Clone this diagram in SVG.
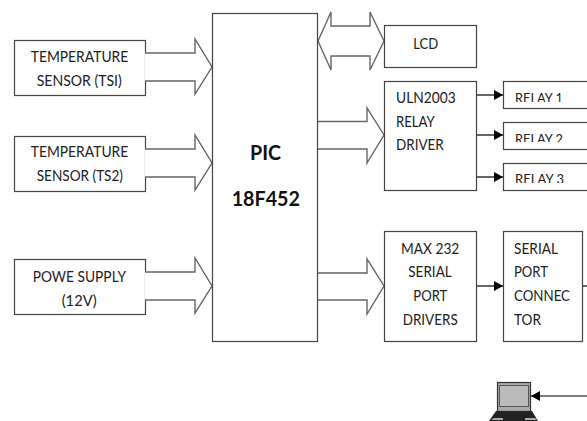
<svg xmlns="http://www.w3.org/2000/svg" width="587" height="421" viewBox="0 0 587 421">
<style>
.b{fill:#fff;stroke:#444;stroke-width:1.2}
.a{fill:#fff;stroke:#666;stroke-width:1.4;stroke-linejoin:miter}
.l{stroke:#000;stroke-width:1.2;fill:none}
text{font-family:Lato,"Liberation Sans",sans-serif;font-size:14.5px;fill:#222}
.r{font-size:13px}
.t{font-size:20px;font-weight:700;fill:#111}
</style>
<defs>
<marker id="h" markerUnits="userSpaceOnUse" markerWidth="9" markerHeight="10" refX="9" refY="5" orient="auto"><path d="M0 0L9 5L0 10Z" fill="#000"/></marker>
<clipPath id="c1"><rect x="503" y="81" width="84" height="21"/></clipPath>
<clipPath id="c2"><rect x="503" y="122" width="84" height="20"/></clipPath>
<clipPath id="c3"><rect x="503" y="163" width="84" height="20"/></clipPath>
</defs>
<rect width="587" height="421" fill="#fff"/>
<g id="ts1"><rect class="b" x="14.500" y="40.500" width="131" height="55"/><text x="30.700" y="62.300" textLength="97.600" lengthAdjust="spacingAndGlyphs">TEMPERATURE</text><text x="36.700" y="85.700" textLength="85" lengthAdjust="spacingAndGlyphs">SENSOR (TSI)</text></g>
<g id="ts2"><rect class="b" x="14.500" y="136.500" width="131" height="55"/><text x="30.700" y="157.300" textLength="97.600" lengthAdjust="spacingAndGlyphs">TEMPERATURE</text><text x="36.700" y="180.700" textLength="86.300" lengthAdjust="spacingAndGlyphs">SENSOR (TS2)</text></g>
<g id="power"><rect class="b" x="14.500" y="259.500" width="131" height="55"/><text x="32.700" y="281.700" textLength="93.300" lengthAdjust="spacingAndGlyphs">POWE SUPPLY</text><text x="61.700" y="305.700" textLength="35" lengthAdjust="spacingAndGlyphs">(12V)</text></g>
<g id="connectors">
<path class="a" d="M145 53H195V39L212 67L195 94V81H145"/>
<path class="a" d="M145 149H195V135L212 163L195 190V177H145"/>
<path class="a" d="M145 272H195V258L212 286L195 313V300H145"/>
<path class="a" d="M318 41L331 12V26H370V12L384 41L370 70V56H331V70Z"/>
<path class="a" d="M318 121.500H367V108L384 135L367 163V149H318"/>
<path class="a" d="M318 273H367V259L384 286L367 314V300H318"/>
<path class="l" d="M476 95H503" marker-end="url(#h)"/>
<path class="l" d="M476 135H503" marker-end="url(#h)"/>
<path class="l" d="M476 177H503" marker-end="url(#h)"/>
<path class="l" d="M476 286H503" marker-end="url(#h)"/>
<path class="l" d="M583 286H587"/>
<path class="l" d="M587 396H531" marker-end="url(#h)"/>
</g>
<g id="pic"><rect class="b" x="212.500" y="13.500" width="105" height="328" style="fill:none"/><text class="t" x="250" y="160" textLength="31" lengthAdjust="spacingAndGlyphs">PIC</text><text class="t" x="231.700" y="206" textLength="68.300" lengthAdjust="spacingAndGlyphs">18F452</text></g>
<g id="lcd"><rect class="b" x="384.500" y="25.500" width="92" height="42"/><text x="413.300" y="49" textLength="25" lengthAdjust="spacingAndGlyphs">LCD</text></g>
<g id="uln"><rect class="b" x="384.500" y="81.500" width="92" height="109"/><text x="396" y="102.700" textLength="59.700" lengthAdjust="spacingAndGlyphs">ULN2003</text><text x="396" y="126.700" textLength="38.700" lengthAdjust="spacingAndGlyphs">RELAY</text><text x="396" y="150" textLength="47.700" lengthAdjust="spacingAndGlyphs">DRIVER</text></g>
<g id="relay1"><rect class="b" x="503.500" y="81.500" width="90" height="27"/><text class="r" x="515" y="103.400" clip-path="url(#c1)" textLength="48" lengthAdjust="spacingAndGlyphs">RELAY 1</text></g>
<g id="relay2"><rect class="b" x="503.500" y="122.500" width="90" height="27"/><text class="r" x="515" y="144.400" clip-path="url(#c2)" textLength="48" lengthAdjust="spacingAndGlyphs">RELAY 2</text></g>
<g id="relay3"><rect class="b" x="503.500" y="163.500" width="90" height="27"/><text class="r" x="515" y="184.400" clip-path="url(#c3)" textLength="49" lengthAdjust="spacingAndGlyphs">RELAY 3</text></g>
<g id="max"><rect class="b" x="384.500" y="231.500" width="92" height="110"/><text x="401" y="254.300" textLength="58.300" lengthAdjust="spacingAndGlyphs">MAX 232</text><text x="408.300" y="277" textLength="43.400" lengthAdjust="spacingAndGlyphs">SERIAL</text><text x="413.300" y="300.700" textLength="34" lengthAdjust="spacingAndGlyphs">PORT</text><text x="402.700" y="325" textLength="55" lengthAdjust="spacingAndGlyphs">DRIVERS</text></g>
<g id="serial"><rect class="b" x="503.500" y="231.500" width="79" height="110"/><text x="514" y="254.300" textLength="44" lengthAdjust="spacingAndGlyphs">SERIAL</text><text x="514" y="277" textLength="34" lengthAdjust="spacingAndGlyphs">PORT</text><text x="514" y="300.700" textLength="56" lengthAdjust="spacingAndGlyphs">CONNEC</text><text x="514" y="325" textLength="27" lengthAdjust="spacingAndGlyphs">TOR</text></g>
<g id="laptop">
<rect x="497.500" y="382.500" width="33" height="29" fill="#aaa" stroke="#333" stroke-width="1.200"/>
<rect x="499.500" y="385.500" width="29" height="21" fill="#bbb" stroke="#555"/>
<path d="M496 411H532L538 421H489Z" fill="#222"/>
<path d="M491 420L494 418H503V420ZM525 418H535L537 420H525Z" fill="#aaa"/>
</g>
</svg>
